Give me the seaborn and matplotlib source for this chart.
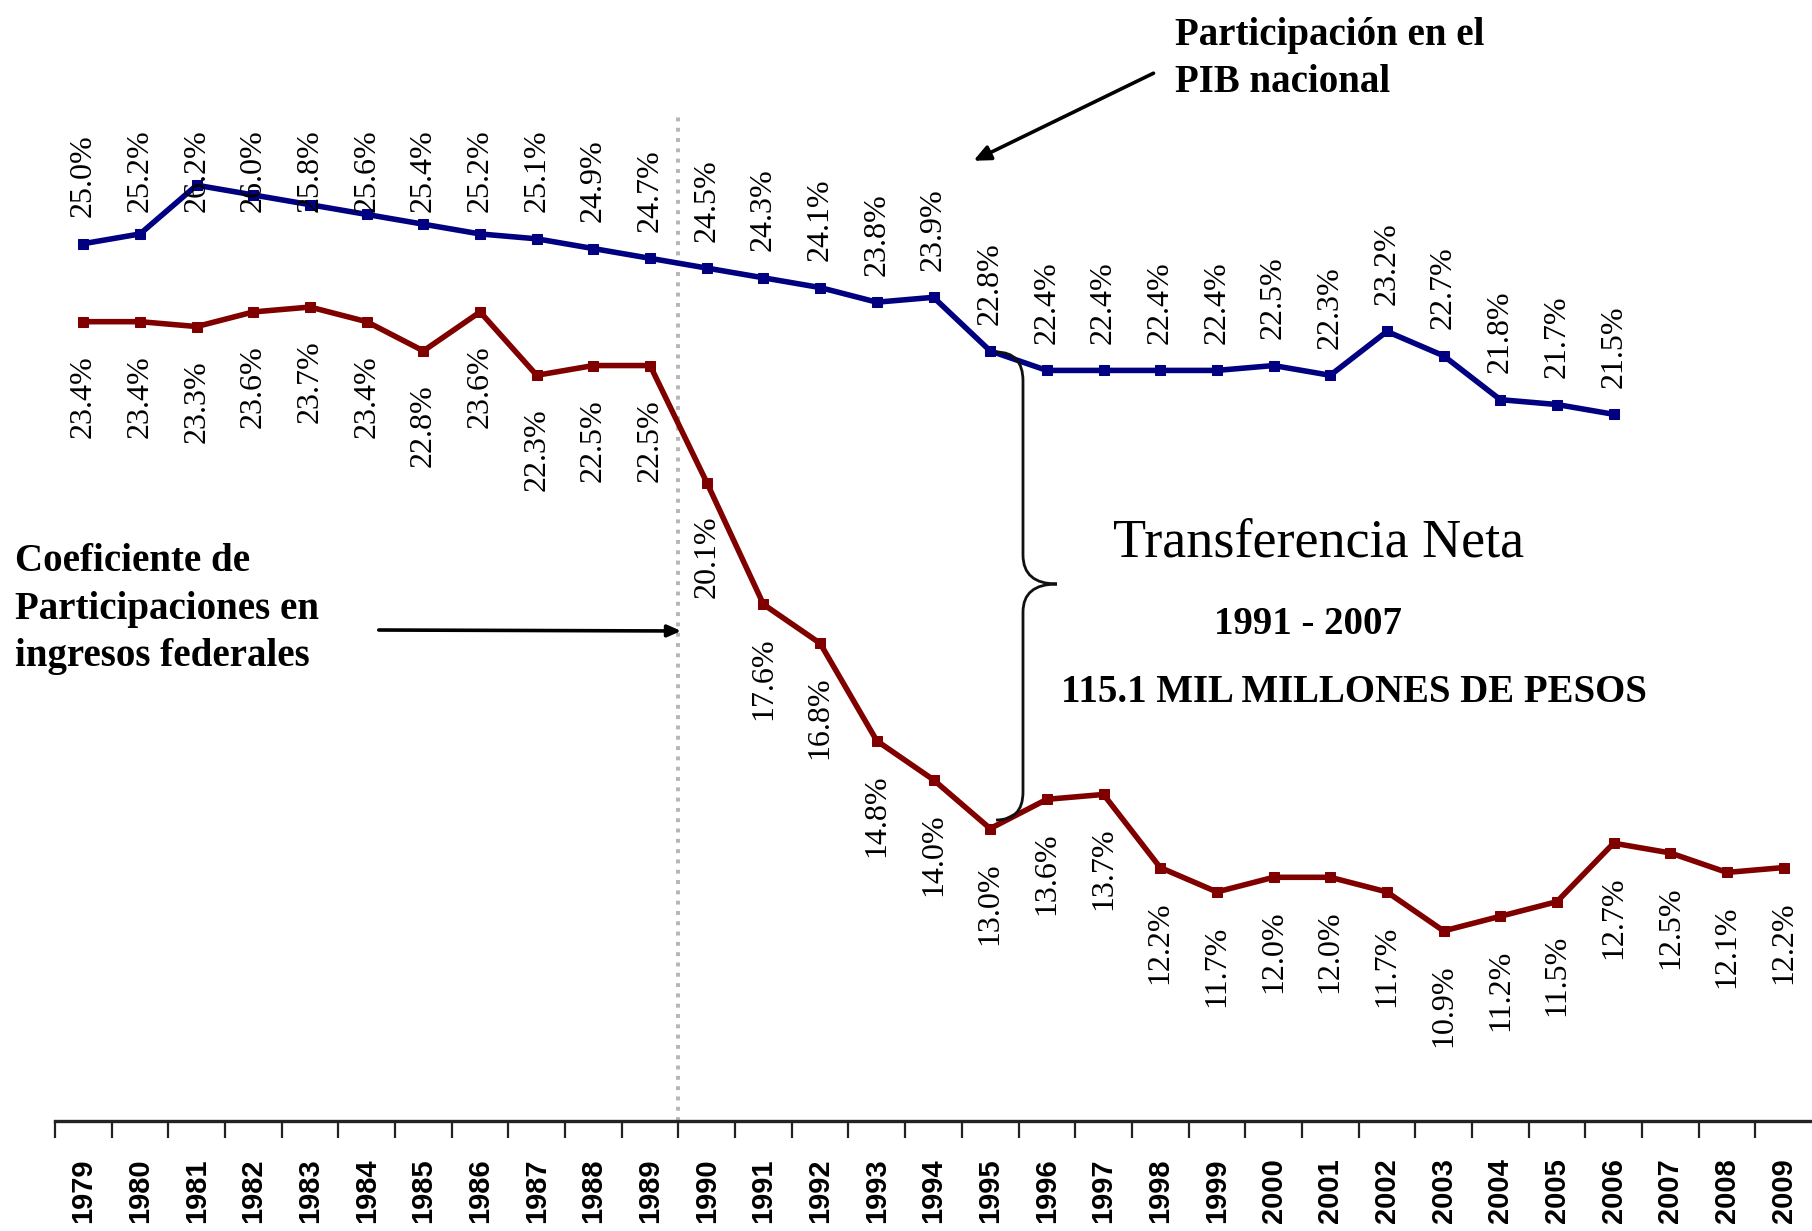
import matplotlib
matplotlib.use("Agg")
import matplotlib.pyplot as plt
import seaborn as sns
import pandas as pd
from matplotlib.path import Path
from matplotlib.patches import PathPatch
from matplotlib.ticker import FixedLocator, FixedFormatter

# ---------------- data ----------------
years = list(range(1979, 2010))
pib_years = list(range(1979, 2007))
pib = [25.0, 25.2, 26.2, 26.0, 25.8, 25.6, 25.4, 25.2, 25.1, 24.9, 24.7,
       24.5, 24.3, 24.1, 23.8, 23.9, 22.8, 22.4, 22.4, 22.4, 22.4, 22.5,
       22.3, 23.2, 22.7, 21.8, 21.7, 21.5]
coef = [23.4, 23.4, 23.3, 23.6, 23.7, 23.4, 22.8, 23.6, 22.3, 22.5, 22.5,
        20.1, 17.6, 16.8, 14.8, 14.0, 13.0, 13.6, 13.7, 12.2, 11.7, 12.0,
        12.0, 11.7, 10.9, 11.2, 11.5, 12.7, 12.5, 12.1, 12.2]
year_labels = [str(y) for y in years]

label_pib = "Participación en el\nPIB nacional"
label_coef = "Coeficiente de\nParticipaciones en\ningresos federales"
title_transfer = "Transferencia Neta"
period_text = "1991 - 2007"
amount_text = "115.1 MIL MILLONES DE PESOS"

# ---------------- style ----------------
sns.set_style("white")
plt.rcParams['font.family'] = ['Liberation Serif', 'DejaVu Serif']
plt.rcParams['text.color'] = 'black'
plt.rcParams['xtick.color'] = 'black'
plt.rcParams['axes.labelcolor'] = 'black'

W, H = 1812, 1231
fig = plt.figure(figsize=(W / 100, H / 100), dpi=100)
ax = fig.add_axes([55 / W, 1 - 1121 / H, 1 - 55 / W, 1121 / H])

blue = '#000080'
red = '#800000'

df_pib = pd.DataFrame({'year': pib_years, 'value': pib})
df_coef = pd.DataFrame({'year': years, 'value': coef})

sns.lineplot(data=df_pib, x='year', y='value', ax=ax, color=blue,
             linewidth=4.0, marker='s', markersize=7.5, markeredgecolor=blue)
sns.lineplot(data=df_coef, x='year', y='value', ax=ax, color=red,
             linewidth=4.0, marker='s', markersize=7.5, markeredgecolor=red)

ax.set_xlim(years[0] - 0.5, years[-1] + 0.5)
ax.set_ylim(7, 30)

# dotted separator between 1989 and 1990
ax.plot([1989.5, 1989.5], [7, 27.6], color='#b5b5b5', linestyle=':',
        linewidth=2.8, zorder=0)

# data labels
for x, v in zip(pib_years, pib):
    ax.annotate(f"{v:.1f}%", xy=(x, min(v, 25.1)), xytext=(0, 19),
                textcoords='offset points', rotation=90, ha='center',
                va='bottom', fontsize=23, color='black')
for x, v in zip(years, coef):
    ax.annotate(f"{v:.1f}%", xy=(x, v), xytext=(0, -24),
                textcoords='offset points', rotation=90, ha='center',
                va='top', fontsize=23, color='black')

# axes styling
for s in ['left', 'top', 'right']:
    ax.spines[s].set_visible(False)
ax.spines['bottom'].set_color('#222222')
ax.spines['bottom'].set_linewidth(2.4)
ax.set_yticks([])
ax.set_xlabel('')
ax.set_ylabel('')
ax.xaxis.set_major_locator(FixedLocator([y - 0.5 for y in years]))
ax.xaxis.set_major_formatter(FixedFormatter([''] * len(years)))
ax.xaxis.set_minor_locator(FixedLocator(years))
ax.xaxis.set_minor_formatter(FixedFormatter(year_labels))
ax.tick_params(axis='x', which='major', direction='out', length=12,
               width=1.6, color='#222222', bottom=True)
ax.tick_params(axis='x', which='minor', length=0, pad=27, labelcolor='black')
for t in ax.xaxis.get_minorticklabels():
    t.set_rotation(90)
    t.set_fontfamily(['Liberation Sans', 'DejaVu Sans'])
    t.set_fontweight('bold')
    t.set_fontsize(21)
    t.set_va('top')
    t.set_ha('center')
    t.set_color('black')

# ---------------- annotations (figure pixels) ----------------
def fy(y):
    return H - y

fig.text(1175 / W, fy(17) / H, label_pib, ha='left', va='top',
         fontsize=28, fontweight='bold', linespacing=1.36, color='black')
ax.annotate('', xy=(971, fy(162)), xycoords='figure pixels',
            xytext=(1156, fy(72)), textcoords='figure pixels',
            arrowprops=dict(arrowstyle='-|>,head_length=1.0,head_width=0.45',
                            color='black', lw=2.6))

fig.text(15 / W, fy(609) / H, label_coef, ha='left', va='center',
         fontsize=28, fontweight='bold', linespacing=1.38, color='black')
ax.annotate('', xy=(684, fy(631)), xycoords='figure pixels',
            xytext=(376, fy(630)), textcoords='figure pixels',
            arrowprops=dict(arrowstyle='-|>,head_length=0.8,head_width=0.35',
                            color='black', lw=2.6))

fig.text(1319 / W, fy(543) / H, title_transfer, ha='center', va='center',
         fontsize=39, color='black')
fig.text(1308 / W, fy(624) / H, period_text, ha='center', va='center',
         fontsize=28, fontweight='bold', color='black')
fig.text(1354 / W, fy(693) / H, amount_text, ha='center', va='center',
         fontsize=28, fontweight='bold', color='black')

# curly brace
bx, tip = 1023, 1057
verts = [
    (996, fy(352)), (bx, fy(352)), (bx, fy(381)),
    (bx, fy(555)),
    (bx, fy(584)), (tip, fy(584)),
    (bx, fy(584)), (bx, fy(612)),
    (bx, fy(792)),
    (bx, fy(820)), (996, fy(820)),
]
codes = [Path.MOVETO, Path.CURVE3, Path.CURVE3,
         Path.LINETO,
         Path.CURVE3, Path.CURVE3,
         Path.CURVE3, Path.CURVE3,
         Path.LINETO,
         Path.CURVE3, Path.CURVE3]
verts = [(x / W, y / H) for x, y in verts]
brace = PathPatch(Path(verts, codes), transform=fig.transFigure,
                  facecolor='none', edgecolor='#111111', lw=2.0)
fig.add_artist(brace)

fig.savefig('out.png', dpi=100)
